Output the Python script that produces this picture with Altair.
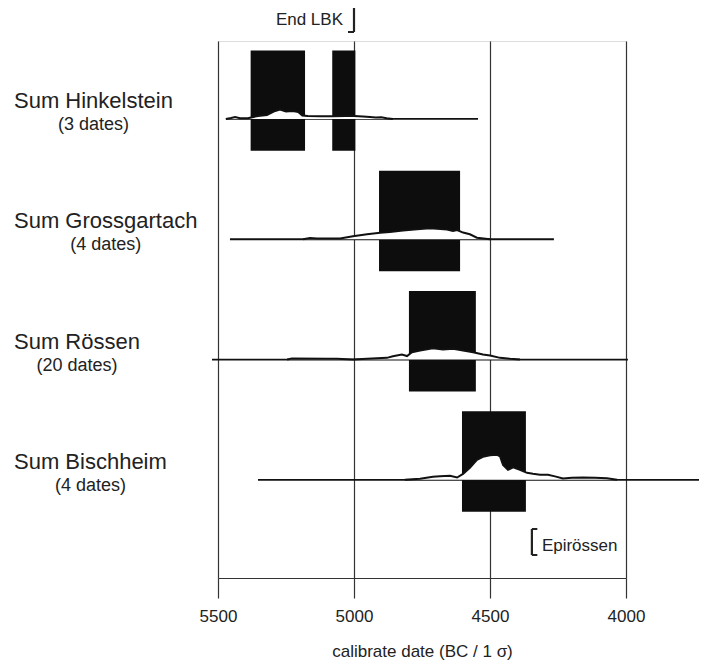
import altair as alt
import pandas as pd

# ---------------- data ----------------
cultures = ["Sum Hinkelstein", "Sum Grossgartach", "Sum Rössen", "Sum Bischheim"]
date_counts = ["(3 dates)", "(4 dates)", "(20 dates)", "(4 dates)"]

# full extent of the summed calibration (years BC)
range_start = [5471, 5456, 5522, 5353]
range_end = [4544, 4265, 3993, 3700]

# 1-sigma blocks (row index, start, end)
sigma_row = [1, 1, 2, 3, 4]
sigma_start = [5380, 5080, 4908, 4798, 4603]
sigma_end = [5180, 4995, 4610, 4552, 4368]

# summed probability curves (relative probability)
hink_years = [5471, 5452, 5437, 5419, 5390, 5353, 5320, 5290, 5272, 5250, 5225, 5205,
              5190, 5170, 5125, 5077, 5030, 5000, 4967, 4941, 4920, 4900, 4880, 4857]
hink_prob = [0, 1, 2, 0.8, 0.8, 3, 4, 8, 9.5, 7.5, 8, 7,
             3.5, 3, 2.8, 2.8, 3, 3, 2.5, 2, 1.5, 1.8, 0.8, 0]

gross_years = [5187, 5162, 5136, 5051, 5004, 4952, 4904, 4868, 4820, 4768, 4721, 4695,
               4658, 4636, 4621, 4599, 4574, 4548, 4500]
gross_prob = [0, 1.3, 0.7, 0.7, 3, 5, 6.5, 7.3, 8.7, 10, 11, 10.5,
              9.7, 8.3, 9.2, 6.7, 5, 1.5, 0]

roes_years = [5246, 5228, 5100, 5063, 5004, 4952, 4879, 4857, 4824, 4805, 4787, 4757,
              4710, 4673, 4636, 4599, 4562, 4526, 4500, 4463, 4426, 4390]
roes_prob = [0, 1, 0.9, 0.7, 0, 0.7, 1.7, 3.3, 5, 3.5, 7.3, 9,
             11.3, 10, 10.7, 9, 7.3, 5, 4, 1.7, 0.7, 0]

bisch_years = [4813, 4757, 4710, 4684, 4647, 4621, 4599, 4574, 4548, 4526, 4500, 4474,
               4463, 4452, 4434, 4415, 4390, 4364, 4342, 4316, 4287, 4261, 4232, 4199,
               4158, 4114, 4070, 4033]
bisch_prob = [0, 1, 3, 3.5, 4, 2.3, 6, 12, 20, 23, 24.5, 25,
              23.5, 15, 10, 12.5, 10, 7, 6, 5, 5, 3.5, 1.3, 2,
              2.3, 2, 1.5, 0]

x_ticks = [5500, 5000, 4500, 4000]

# ---------------- tables ----------------
rows = list(range(1, len(cultures) + 1))
ranges = pd.DataFrame({"row": rows, "start": range_start, "end": range_end})
sigmas = pd.DataFrame({"row": sigma_row, "start": sigma_start, "end": sigma_end})

curve_parts = []
for r, (ys, ps) in zip(rows, [(hink_years, hink_prob), (gross_years, gross_prob),
                              (roes_years, roes_prob), (bisch_years, bisch_prob)]):
    curve_parts.append(pd.DataFrame({"row": r, "year": ys, "prob": ps}))
curves = pd.concat(curve_parts, ignore_index=True)

# width estimate (Arial metrics) to centre the "(n dates)" line under each name
AW = {"S": 667, "u": 556, "m": 833, " ": 278, "H": 722, "i": 222, "n": 556, "k": 500,
      "e": 556, "l": 222, "s": 500, "t": 278, "G": 778, "r": 333, "o": 556, "g": 556,
      "a": 556, "c": 500, "h": 556, "R": 722, "ö": 556, "B": 667}
NAME_SIZE = 22
NAME_LEFT = -204
name_centres = [NAME_LEFT + sum(AW.get(c, 556) for c in n) / 1000 * NAME_SIZE / 2 for n in cultures]
labels = pd.DataFrame({"row": rows, "name": cultures, "dates": date_counts, "cx": name_centres})

# ---------------- layout ----------------
PX_PER_ROW = 120.3
W, H = 408, 537
Y_TOP = 0.352
PROB_SCALE = 1.0 / PX_PER_ROW   # one probability unit = 1 px

LINE_COL = "#333333"
FONT = "Liberation Sans"

xscale = alt.Scale(domain=[4000, 5500], reverse=True, nice=False, zero=False)
yscale = alt.Scale(domain=[Y_TOP, Y_TOP + H / PX_PER_ROW], reverse=True, nice=False, zero=False)
xaxis = alt.Axis(values=x_ticks, format="d", title="calibrate date (BC / 1 σ)",
                 grid=True, gridColor=LINE_COL, gridWidth=1.2, gridOpacity=1,
                 domainColor=LINE_COL, domainWidth=1.2, tickColor=LINE_COL, tickWidth=1.2,
                 tickSize=20, labelFont=FONT, labelFontSize=17,
                 labelColor="#222", labelPadding=10, labelFlush=False, labelOverlap=False,
                 titleFont=FONT, titleFontSize=17, titleFontWeight="normal",
                 titleColor="#222", titlePadding=19)


def X(field):
    return alt.X(field, type="quantitative", scale=xscale, axis=xaxis)


def Y(field):
    return alt.Y(field, type="quantitative", scale=yscale, axis=None)


rects = alt.Chart(sigmas).transform_calculate(
    top="datum.row - 0.57", bot="datum.row + 0.265"
).mark_rect(color="#0d0d0d").encode(
    x=X("start"), x2="end", y=Y("top"), y2="bot"
)

base_lines = alt.Chart(ranges).mark_rule(color="#111", strokeWidth=1.8).encode(
    x=X("start"), x2="end", y=Y("row")
)

curve_fill = alt.Chart(curves).transform_calculate(
    top=f"datum.row - datum.prob * {PROB_SCALE}"
).mark_area(color="white", opacity=1).encode(
    x=X("year"), y=Y("top"), y2="row", detail="row:N"
)

curve_line = alt.Chart(curves).transform_calculate(
    top=f"datum.row - datum.prob * {PROB_SCALE}"
).mark_line(color="#111", strokeWidth=2).encode(
    x=X("year"), y=Y("top"), detail="row:N"
)

name_text = alt.Chart(labels).mark_text(
    align="left", baseline="middle", dy=-18, font=FONT, fontSize=NAME_SIZE, color="#222"
).encode(x=alt.value(NAME_LEFT), y=Y("row"), text="name")

date_text = alt.Chart(labels).mark_text(
    align="center", baseline="middle", dy=6, font=FONT, fontSize=18, color="#222"
).encode(x=alt.X("cx:Q", scale=None), y=Y("row"), text="dates")

# annotations
ann = pd.DataFrame({"year": [5000, 4346], "label": ["End LBK", "Epirössen"],
                    "serif": [5022, 4326]})
end_df = ann.iloc[[0]]
epi_df = ann.iloc[[1]]

end_text = alt.Chart(end_df).mark_text(
    align="right", baseline="middle", dx=-11, font=FONT, fontSize=17, color="#222"
).encode(x=X("year"), y=alt.value(-21), text="label")
end_v = alt.Chart(end_df).mark_rule(color="#222", strokeWidth=2.2).encode(
    x=X("year"), y=alt.value(-35), y2=alt.value(-9))
end_s1 = alt.Chart(end_df).mark_rule(color="#222", strokeWidth=2).encode(
    x=X("year"), x2="serif", y=alt.value(-35))
end_s2 = alt.Chart(end_df).mark_rule(color="#222", strokeWidth=2).encode(
    x=X("year"), x2="serif", y=alt.value(-9))

epi_text = alt.Chart(epi_df).mark_text(
    align="left", baseline="middle", dx=10, font=FONT, fontSize=17, color="#222"
).encode(x=X("year"), y=alt.value(505), text="label")
epi_v = alt.Chart(epi_df).mark_rule(color="#222", strokeWidth=2.2).encode(
    x=X("year"), y=alt.value(488), y2=alt.value(514))
epi_s1 = alt.Chart(epi_df).mark_rule(color="#222", strokeWidth=2).encode(
    x=X("year"), x2="serif", y=alt.value(488))
epi_s2 = alt.Chart(epi_df).mark_rule(color="#222", strokeWidth=2).encode(
    x=X("year"), x2="serif", y=alt.value(514))

chart = alt.layer(
    rects, base_lines, curve_fill, curve_line, name_text, date_text,
    end_text, end_v, end_s1, end_s2, epi_text, epi_v, epi_s1, epi_s2
).properties(
    width=W, height=H,
    autosize=alt.AutoSizeParams(type="none"),
    padding={"left": 210, "top": 33, "right": 73, "bottom": 85},
).configure_view(stroke=LINE_COL, strokeWidth=1.2).configure(background="white")

chart.save("out.html", embed_options={"renderer": "svg", "actions": False})
